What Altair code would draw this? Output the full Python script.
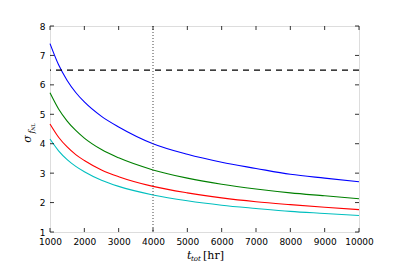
import altair as alt
import pandas as pd

t_hr = [1000, 1250, 1500, 1750, 2000, 2500, 3000, 4000, 5000, 6000, 7000, 8000, 9000, 10000]
blue = [7.40, 6.68, 6.15, 5.74, 5.42, 4.93, 4.57, 4.00, 3.64, 3.37, 3.16, 2.96, 2.83, 2.71]
green = [5.73, 5.18, 4.77, 4.45, 4.19, 3.80, 3.52, 3.11, 2.83, 2.62, 2.46, 2.33, 2.23, 2.13]
red = [4.67, 4.22, 3.89, 3.63, 3.43, 3.11, 2.88, 2.55, 2.33, 2.16, 2.03, 1.93, 1.84, 1.76]
cyan = [4.16, 3.76, 3.46, 3.23, 3.05, 2.76, 2.55, 2.26, 2.06, 1.91, 1.80, 1.70, 1.63, 1.56]
series_names = ["a", "b", "c", "d"]
series_colors = ["#0000ff", "#008000", "#ff0000", "#00bfbf"]
threshold = 6.5
t_mark = 4000
x_ticks = [1000, 2000, 3000, 4000, 5000, 6000, 7000, 8000, 9000, 10000]
y_ticks = [1, 2, 3, 4, 5, 6, 7, 8]

W, H = 309, 206

rows = []
for name, vals in zip(series_names, [blue, green, red, cyan]):
    for t, v in zip(t_hr, vals):
        rows.append({"t": t, "s": v, "series": name})
df = pd.DataFrame(rows)

xscale = alt.Scale(domain=[1000, 10000], nice=False, zero=False)
yscale = alt.Scale(domain=[1, 8], nice=False, zero=False)

xaxis = alt.Axis(values=x_ticks, format="d", labelFont="DejaVu Sans", labelFontSize=9,
                 labelColor="black", labelPadding=5, labelOverlap=False, labelBound=False,
                 labelFlush=False, ticks=False, domain=False, grid=False, title=None)
yaxis = alt.Axis(values=y_ticks, format="d", labelFont="DejaVu Sans", labelFontSize=9,
                 labelColor="black", labelPadding=5, labelOverlap=False, labelBound=False,
                 labelFlush=False, ticks=False, domain=False, grid=False, title=None)

curves = alt.Chart(df).mark_line(strokeWidth=1.1, interpolate="monotone").encode(
    x=alt.X("t:Q", scale=xscale, axis=xaxis),
    y=alt.Y("s:Q", scale=yscale, axis=yaxis),
    color=alt.Color("series:N", scale=alt.Scale(domain=series_names, range=series_colors), legend=None),
    detail="series:N",
)

hline = alt.Chart(pd.DataFrame({"y": [threshold]})).mark_rule(
    color="black", strokeWidth=1.1, strokeDash=[6, 5]).encode(
    y=alt.Y("y:Q", scale=yscale, axis=yaxis))

vline = alt.Chart(pd.DataFrame({"x": [t_mark]})).mark_rule(
    color="#444444", strokeWidth=1, strokeDash=[1, 2]).encode(
    x=alt.X("x:Q", scale=xscale, axis=xaxis))

xt = pd.DataFrame({"v": x_ticks})
yt = pd.DataFrame({"v": y_ticks})
tick_top = alt.Chart(xt).mark_rule(color="black", strokeWidth=0.8).encode(
    x=alt.X("v:Q", scale=xscale, axis=xaxis), y=alt.value(0), y2=alt.value(4))
tick_bot = alt.Chart(xt).mark_rule(color="black", strokeWidth=0.8).encode(
    x=alt.X("v:Q", scale=xscale, axis=xaxis), y=alt.value(H - 4), y2=alt.value(H))
tick_left = alt.Chart(yt).mark_rule(color="black", strokeWidth=0.8).encode(
    y=alt.Y("v:Q", scale=yscale, axis=yaxis), x=alt.value(0), x2=alt.value(4))
tick_right = alt.Chart(yt).mark_rule(color="black", strokeWidth=0.8).encode(
    y=alt.Y("v:Q", scale=yscale, axis=yaxis), x=alt.value(W - 4), x2=alt.value(W))

def txt(s, x, y, size, style="normal", font="DejaVu Serif", angle=0, align="left"):
    return alt.Chart(pd.DataFrame({"l": [s]})).mark_text(
        fontSize=size, fontStyle=style, font=font, angle=angle, align=align,
        baseline="alphabetic", color="black").encode(
        text="l:N", x=alt.value(x), y=alt.value(y))

xt1 = txt("t", 137, 233, 11, style="italic")
xt2 = txt("tot", 141, 235, 7, style="italic")
xt3 = txt("[hr]", 153, 233, 11)

ys1 = txt("σ", -19, 113, 11, style="italic", angle=270, align="center")
ys2 = txt("f", -16, 106, 8, style="italic", angle=270, align="center")
ys3 = txt("NL", -15, 101, 5, style="italic", angle=270, align="center")

chart = alt.layer(
    curves, hline, vline, tick_top, tick_bot, tick_left, tick_right,
    xt1, xt2, xt3, ys1, ys2, ys3
).properties(
    width=W, height=H,
    autosize=alt.AutoSizeParams(type="none"),
    padding={"left": 42, "top": 18, "right": 32, "bottom": 34},
).configure_view(stroke="black", strokeWidth=1.2).configure_axis(
    labelOverlap=False, labelFlush=False).configure(background="white")

chart.save("out.html", embed_options={"renderer": "svg", "actions": False})
